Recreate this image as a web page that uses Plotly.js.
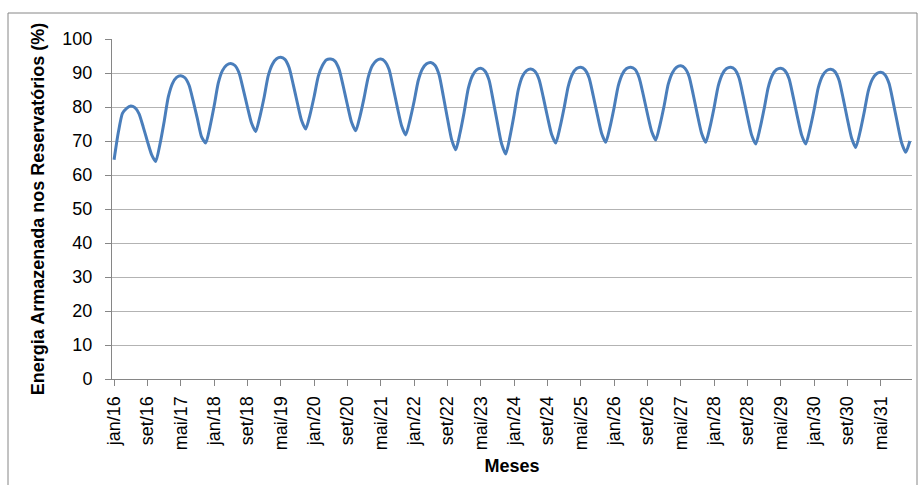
<!DOCTYPE html>
<html>
<head>
<meta charset="utf-8">
<script src="https://cdn.plot.ly/plotly-3.0.1.min.js"></script>
<style>
html,body{margin:0;padding:0;background:#fff;}
#chart{width:920px;height:485px;}
</style>
</head>
<body>
<div id="chart"></div>
<script>
// Month and year labels (pt-BR abbreviations)
const months = ["jan","fev","mar","abr","mai","jun","jul","ago","set","out","nov","dez"];
const years = ["16","17","18","19","20","21","22","23","24","25","26","27","28","29","30","31"];

// Energia armazenada (%), monthly, jan/16 .. dez/31 (one row per year)
const energia = [
  64.5, 72.4, 78.1, 79.6, 80.3, 79.8, 78.0, 74.1, 69.9, 66.0, 64.0, 69.0,
  75.6, 82.9, 86.9, 88.7, 89.2, 88.6, 86.4, 81.7, 76.5, 71.2, 69.4, 74.1,
  80.2, 87.0, 90.7, 92.3, 92.8, 92.2, 90.0, 85.2, 80.0, 75.2, 72.8, 77.2,
  82.8, 89.2, 92.6, 94.2, 94.6, 94.0, 91.6, 86.6, 81.1, 76.0, 73.5, 77.6,
  83.0, 89.0, 92.2, 93.9, 94.1, 93.5, 91.1, 86.1, 80.6, 75.5, 73.0, 77.2,
  82.7, 88.8, 92.2, 93.7, 94.1, 93.4, 91.0, 85.6, 79.8, 74.5, 71.8, 76.1,
  81.6, 87.8, 91.2, 92.7, 93.1, 92.3, 89.5, 83.3, 76.7, 70.5, 67.4, 72.2,
  78.4, 85.4, 89.2, 90.9, 91.4, 90.6, 87.9, 81.8, 75.3, 69.2, 66.2, 71.2,
  77.7, 85.0, 89.0, 90.7, 91.2, 90.5, 88.1, 82.9, 77.2, 72.0, 69.4, 73.9,
  79.7, 86.1, 89.7, 91.3, 91.7, 91.0, 88.6, 83.3, 77.6, 72.3, 69.6, 74.0,
  79.8, 86.2, 89.7, 91.3, 91.7, 91.1, 88.7, 83.6, 78.0, 72.9, 70.3, 74.7,
  80.3, 86.7, 90.1, 91.7, 92.1, 91.4, 89.0, 83.6, 77.7, 72.3, 69.6, 74.0,
  79.8, 86.2, 89.7, 91.3, 91.7, 91.0, 88.5, 83.1, 77.2, 71.8, 69.1, 73.6,
  79.4, 85.8, 89.4, 91.0, 91.4, 90.7, 88.3, 82.9, 77.1, 71.8, 69.1, 73.5,
  79.2, 85.6, 89.1, 90.7, 91.1, 90.4, 87.9, 82.4, 76.4, 70.9, 68.1, 72.5,
  78.3, 84.7, 88.2, 89.8, 90.2, 89.5, 86.9, 81.3, 75.2, 69.5, 66.7, 70.0
];

const yTicks = [0,10,20,30,40,50,60,70,80,90,100];
const labelEvery = 8;

// Build category labels from the arrays
const categories = [];
years.forEach(y => months.forEach(m => categories.push(m + "/" + y)));
const tickCats = categories.filter((c, i) => i % labelEvery === 0);

const trace = {
  x: categories,
  y: energia,
  type: "scatter",
  mode: "lines",
  line: {color: "#4a7ebb", width: 3, shape: "spline", smoothing: 0.6},
  hoverinfo: "skip"
};

const fontFam = "Liberation Sans, Arial, sans-serif";

const layout = {
  width: 920,
  height: 485,
  margin: {l: 112, r: 8, t: 39, b: 106},
  paper_bgcolor: "#ffffff",
  plot_bgcolor: "#ffffff",
  showlegend: false,
  font: {family: fontFam, color: "#000000", size: 17},
  xaxis: {
    type: "category",
    range: [-0.5, categories.length - 0.5],
    tickmode: "array",
    tickvals: tickCats,
    ticktext: tickCats,
    tickangle: -90,
    ticks: "outside",
    ticklen: 6,
    tickcolor: "#868686",
    showgrid: false,
    showline: true,
    linecolor: "#868686",
    linewidth: 1,
    zeroline: false,
    ticklabelstandoff: 3,
    tickfont: {family: fontFam, size: 18, color: "#000"},
    title: {text: "Meses", font: {family: fontFam, size: 18, color: "#000", weight: "bold"}, standoff: 10}
  },
  yaxis: {
    range: [0, 100],
    tickmode: "array",
    tickvals: yTicks,
    ticks: "outside",
    ticklen: 6,
    tickcolor: "#868686",
    showgrid: true,
    gridcolor: "#b3b3b3",
    gridwidth: 1,
    showline: true,
    linecolor: "#868686",
    linewidth: 1,
    zeroline: false,
    ticklabelstandoff: 9,
    tickfont: {family: fontFam, size: 18, color: "#000"},
    title: {text: "Energia Armazenada nos Reservatórios (%)", font: {family: fontFam, size: 18, color: "#000", weight: "bold"}, standoff: 13}
  },
  shapes: [{
    type: "rect", xref: "paper", yref: "paper",
    x0: (8 - 112) / 800, x1: (917 - 112) / 800,
    y0: -0.35, y1: (379 - 13) / 340,
    line: {color: "#868686", width: 1},
    fillcolor: "rgba(0,0,0,0)",
    layer: "below"
  }]
};

Plotly.newPlot("chart", [trace], layout, {displayModeBar: false, staticPlot: true});
</script>
</body>
</html>
